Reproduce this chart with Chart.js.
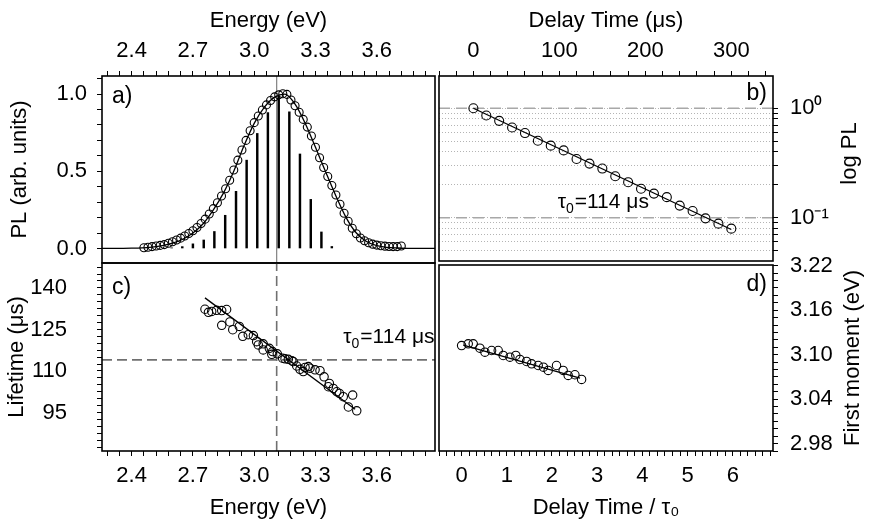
<!DOCTYPE html>
<html>
<head>
<meta charset="utf-8">
<script src="https://cdn.jsdelivr.net/npm/chart.js@4.4.0/dist/chart.umd.min.js"></script>
<style>
html, body { margin: 0; padding: 0; background: #fff; }
#wrap { position: relative; width: 871px; height: 524px; }
#wrap canvas { position: absolute; left: 0; top: 0; }
</style>
</head>
<body>
<div id="wrap">
  <canvas id="pa" width="871" height="524"></canvas>
  <canvas id="pb" width="871" height="524"></canvas>
  <canvas id="pc" width="871" height="524"></canvas>
  <canvas id="pd" width="871" height="524"></canvas>
</div>
<script>
// ---- panel a: PL spectrum (circles), fit, vibronic sticks ----
const plEnergy = [2.46, 2.48, 2.50, 2.52, 2.54, 2.56, 2.58, 2.60, 2.62, 2.64, 2.66, 2.68, 2.70, 2.72, 2.74, 2.76,
  2.78, 2.80, 2.82, 2.84, 2.86, 2.88, 2.90, 2.92, 2.94, 2.96, 2.98, 3.00, 3.02, 3.04, 3.06, 3.08,
  3.10, 3.12, 3.14, 3.16, 3.18, 3.20, 3.22, 3.24, 3.26, 3.28, 3.30, 3.32, 3.34, 3.36, 3.38, 3.40,
  3.42, 3.44, 3.46, 3.48, 3.50, 3.52, 3.54, 3.56, 3.58, 3.60, 3.62, 3.64, 3.66, 3.68, 3.70, 3.72];
const plValue = [0.005, 0.008, 0.012, 0.016, 0.020, 0.025, 0.034, 0.044, 0.055, 0.067, 0.081, 0.097, 0.115, 0.136, 0.162, 0.190,
  0.223, 0.258, 0.296, 0.340, 0.387, 0.442, 0.508, 0.572, 0.638, 0.700, 0.762, 0.815, 0.858, 0.897, 0.930, 0.958,
  0.982, 0.995, 1.002, 0.998, 0.962, 0.924, 0.882, 0.836, 0.786, 0.728, 0.656, 0.588, 0.524, 0.466, 0.408, 0.346,
  0.286, 0.228, 0.176, 0.131, 0.095, 0.068, 0.050, 0.037, 0.028, 0.022, 0.018, 0.015, 0.013, 0.012, 0.012, 0.016];
const plFitEnergy = [2.25, 2.40, 2.45, 2.50, 2.55, 2.60, 2.65, 2.70, 2.75, 2.80, 2.85, 2.90, 2.95, 3.00, 3.05,
  3.10, 3.15, 3.20, 3.25, 3.30, 3.35, 3.40, 3.45, 3.50, 3.55, 3.60, 3.65, 3.70, 3.75, 3.90];
const plFitValue = [0, 0.002, 0.004, 0.009, 0.018, 0.034, 0.060, 0.100, 0.160, 0.250, 0.360, 0.500, 0.665, 0.810, 0.915,
  0.980, 1.000, 0.935, 0.810, 0.655, 0.495, 0.340, 0.200, 0.100, 0.045, 0.018, 0.007, 0.003, 0.001, 0];
const stickEnergy = [2.596, 2.648, 2.700, 2.753, 2.805, 2.858, 2.911, 2.963, 3.015, 3.067, 3.120, 3.172, 3.224, 3.277, 3.329, 3.380];
const stickValue = [0.004, 0.012, 0.030, 0.055, 0.110, 0.215, 0.370, 0.572, 0.745, 0.880, 0.985, 0.885, 0.612, 0.318, 0.107, 0.013];
const peakEnergy = 3.11;

// ---- panel b: decay at the peak ----
const delayTime = [0, 15, 30, 45, 60, 75, 90, 105, 120, 135, 150, 165, 180, 195, 210, 225, 240, 255, 270, 285, 300];
const decayPL = [1.0, 0.858, 0.767, 0.667, 0.593, 0.505, 0.455, 0.412, 0.344, 0.312, 0.281, 0.239, 0.211, 0.184,
  0.166, 0.154, 0.129, 0.115, 0.0986, 0.0882, 0.0794];
const decayFitT = [0, 300];
const decayFitPL = [1.0, 0.078];
const tau0 = 114;

// ---- panel c: lifetime vs energy ----
const lifeEnergy = [2.759, 2.776, 2.792, 2.816, 2.841, 2.841, 2.865, 2.881, 2.895, 2.927, 2.944, 2.971, 2.996, 3.012, 3.020,
  3.044, 3.044, 3.074, 3.086, 3.090, 3.113, 3.139, 3.151, 3.167, 3.184, 3.191, 3.208, 3.224, 3.240, 3.249, 3.265,
  3.273, 3.298, 3.322, 3.342, 3.363, 3.368, 3.387, 3.404, 3.417, 3.436, 3.461, 3.482, 3.502];
const lifetime = [132.3, 131.2, 131.5, 131.9, 131.8, 126.5, 132.2, 127.7, 124.9, 126.1, 122.5, 123.1, 122.8, 120.6, 119.4,
  119.8, 117.6, 118.2, 116.0, 117.0, 116.2, 114.6, 114.4, 114.2, 113.7, 113.4, 111.8, 110.6, 109.8, 111.3, 111.6,
  111.0, 110.4, 110.1, 107.9, 104.3, 105.5, 103.7, 102.5, 101.9, 100.7, 97.0, 101.3, 95.6];
const lifeFitE = [2.759, 3.494];
const lifeFitL = [136.4, 96.2];

// ---- panel d: first moment vs reduced delay ----
const reducedTime = [0, 0.147, 0.257, 0.405, 0.516, 0.664, 0.810, 0.920, 1.069, 1.200, 1.290, 1.438, 1.549, 1.695,
  1.810, 1.916, 2.100, 2.247, 2.358, 2.507, 2.655];
const firstMoment = [3.1123, 3.1146, 3.1146, 3.1087, 3.1033, 3.1056, 3.1056, 3.0989, 3.0966, 3.0989, 3.0935, 3.0908,
  3.0877, 3.0854, 3.0831, 3.0787, 3.0854, 3.0787, 3.0720, 3.0729, 3.0666];
const momentFitT = [0.037, 2.62];
const momentFitM = [3.113, 3.0683];

// ---- tick labels ----
const energyMajor = [2.4, 2.7, 3.0, 3.3, 3.6];
const energyLabels = ['2.4', '2.7', '3.0', '3.3', '3.6'];
const plMajor = [0, 0.5, 1.0];
const plLabels = ['0.0', '0.5', '1.0'];
const delayMajor = [0, 100, 200, 300];
const delayLabels = ['0', '100', '200', '300'];
const logMajor = [0.1, 1];
const logLabels = ['10\u207B\u00B9', '10\u2070'];
const lifeMajor = [95, 110, 125, 140];
const lifeLabels = ['95', '110', '125', '140'];
const reducedMajor = [0, 1, 2, 3, 4, 5, 6];
const reducedLabels = ['0', '1', '2', '3', '4', '5', '6'];
const momentMajor = [2.98, 3.04, 3.10, 3.16, 3.22];
const momentLabels = ['2.98', '3.04', '3.10', '3.16', '3.22'];
const logMinor = [0.05, 0.06, 0.07, 0.08, 0.09, 0.1, 0.2, 0.3, 0.4, 0.5, 0.6, 0.7, 0.8, 0.9, 1];

const FONT = '"Liberation Sans", Arial, sans-serif';
const FS = 22;
Chart.defaults.font.family = FONT;
Chart.defaults.font.size = FS;
Chart.defaults.color = '#000';

const pts = (xs, ys) => xs.map((x, i) => ({ x: x, y: ys[i] }));
function steps(start, step, n) {
  const out = [];
  for (let k = 0; k < n; k++) out.push(Math.round((start + k * step) * 10000) / 10000);
  return out;
}

// one axis, ticks forced to a list, labels only on majors
function axis(c) {
  return {
    type: c.type || 'linear',
    position: c.position,
    min: c.min, max: c.max,
    offset: false,
    afterFit: s => { if (s.isHorizontal()) s.height = c.size; else s.width = c.size; },
    afterBuildTicks: s => { s.ticks = c.ticks.map(v => ({ value: v })); },
    ticks: {
      autoSkip: false, maxRotation: 0, padding: c.pad,
      callback: v => {
        const i = c.majors.findIndex(m => Math.abs(m - v) < 1e-6);
        return i >= 0 ? c.labels[i] : '';
      }
    },
    grid: Object.assign({ display: true, offset: false, drawOnChartArea: false, drawTicks: true,
      tickLength: 5, tickColor: '#000', tickWidth: 1 }, c.grid || {}),
    border: Object.assign({ display: false }, c.border || {}),
    title: c.title ? { display: true, text: c.title, font: { size: FS }, padding: c.titlePad } : { display: false }
  };
}

function drawTau(ctx, x, y) {
  ctx.textAlign = 'left';
  ctx.textBaseline = 'alphabetic';
  ctx.font = '21px ' + FONT;
  ctx.fillText('\u03C4', x, y);
  let w = ctx.measureText('\u03C4').width;
  ctx.font = '14px ' + FONT;
  ctx.fillText('0', x + w, y + 5);
  w += ctx.measureText('0').width + 1;
  ctx.font = '21px ' + FONT;
  ctx.fillText('=' + tau0 + ' \u03BCs', x + w, y);
}

// frame, panel letter, tau note, right side title
const decor = {
  id: 'decor',
  afterDraw(chart, args, o) {
    const { ctx, chartArea: ca, scales } = chart;
    ctx.save();
    ctx.strokeStyle = '#000';
    ctx.lineWidth = 1.6;
    ctx.strokeRect(ca.left, ca.top, ca.right - ca.left, ca.bottom - ca.top);
    ctx.fillStyle = '#000';
    ctx.font = '23px ' + FONT;
    ctx.textBaseline = 'middle';
    ctx.textAlign = o.tagAlign;
    ctx.fillText(o.tag, o.tagAlign === 'left' ? ca.left + o.tagDx : ca.right + o.tagDx, ca.top + o.tagDy);
    if (o.note) {
      drawTau(ctx, scales.x.getPixelForValue(o.note.x), scales.y.getPixelForValue(o.note.y));
    }
    if (o.side) {
      ctx.translate(o.sideX, (ca.top + ca.bottom) / 2 + o.sideDy);
      ctx.rotate(-Math.PI / 2);
      ctx.textAlign = 'center';
      ctx.textBaseline = 'middle';
      ctx.font = FS + 'px ' + FONT;
      ctx.fillText(o.side, 0, 0);
    }
    ctx.restore();
  }
};

function baseOptions(padding, scales, deco) {
  return {
    responsive: false, animation: false, devicePixelRatio: 1, events: [],
    layout: { padding: padding },
    plugins: { legend: { display: false }, tooltip: { enabled: false }, decor: deco },
    scales: scales
  };
}

const circle = (data, r) => ({
  type: 'scatter', data: data, pointRadius: r, pointBorderWidth: 1.1,
  borderColor: '#000', backgroundColor: 'rgba(0,0,0,0)', pointBackgroundColor: 'rgba(0,0,0,0)', order: 1
});
const line = (data, color, width, dash, order) => ({
  type: 'line', data: data, borderColor: color, borderWidth: width, borderDash: dash || [],
  pointRadius: 0, fill: false, tension: 0, order: order
});

// ranges
const eMin = 2.255, eMax = 3.885;
const plMin = -0.094, plMax = 1.117;
const tMin = -40, tMax = 348.5;
const logMin = 0.0402, logMax = 1.97;
const lMin = 81.1, lMax = 149;
const rMin = -0.5, rMax = 6.89;
const mMin = 2.97, mMax = 3.221;

// ---- a ----
new Chart(document.getElementById('pa'), {
  type: 'scatter',
  data: { datasets: [
    circle(pts(plEnergy, plValue), 4),
    Object.assign(line(pts(plFitEnergy, plFitValue), '#000', 1.3, null, 2), { cubicInterpolationMode: 'monotone' }),
    { type: 'bar', data: pts(stickEnergy, stickValue), backgroundColor: '#000', barThickness: 1.8, order: 3 },
    line(pts([peakEnergy, peakEnergy], [plMin, plMax]), '#808080', 1.2, null, 4)
  ] },
  options: baseOptions({ left: 0, top: 0, right: 436, bottom: 261 }, {
    x: axis({ position: 'top', min: eMin, max: eMax, size: 76, ticks: steps(2.28, 0.06, 27),
      majors: energyMajor, labels: energyLabels, pad: 7, title: 'Energy (eV)', titlePad: { top: 8, bottom: 0 } }),
    y: axis({ position: 'left', min: plMin, max: plMax, size: 102, ticks: steps(0, 0.1, 12),
      majors: plMajor, labels: plLabels, pad: 10, title: 'PL (arb. units)', titlePad: { top: 7, bottom: 0 } })
  }, { tag: 'a)', tagAlign: 'left', tagDx: 10, tagDy: 21 }),
  plugins: [decor]
});

// ---- b ----
new Chart(document.getElementById('pb'), {
  type: 'scatter',
  data: { datasets: [
    circle(pts(delayTime, decayPL), 4.5),
    line(pts(decayFitT, decayFitPL), '#000', 1.3, null, 2),
    line(pts([tMin, tMax], [1, 1]), '#a8a8a8', 1.6, [11, 6], 3),
    line(pts([tMin, tMax], [0.1, 0.1]), '#a8a8a8', 1.6, [11, 6], 3)
  ] },
  options: baseOptions({ left: 439, top: 0, right: 0, bottom: 263 }, {
    x: axis({ position: 'top', min: tMin, max: tMax, size: 76, ticks: steps(-40, 20, 20),
      majors: delayMajor, labels: delayLabels, pad: 7, title: 'Delay Time (\u03BCs)', titlePad: { top: 8, bottom: 0 } }),
    y: axis({ type: 'logarithmic', position: 'right', min: logMin, max: logMax, size: 98, ticks: logMinor,
      majors: logMajor, labels: logLabels, pad: 12,
      grid: { drawOnChartArea: true, color: '#b4b4b4', lineWidth: 1 }, border: { display: false, dash: [1, 2] } })
  }, { tag: 'b)', tagAlign: 'right', tagDx: -6, tagDy: 18, note: { x: 98, y: 0.122 },
       side: 'log PL', sideX: 850, sideDy: -15 }),
  plugins: [decor]
});

// ---- c ----
new Chart(document.getElementById('pc'), {
  type: 'scatter',
  data: { datasets: [
    circle(pts(lifeEnergy, lifetime), 4.2),
    line(pts(lifeFitE, lifeFitL), '#000', 1.3, null, 2),
    line(pts([peakEnergy, peakEnergy], [lMin, lMax]), '#707070', 1.6, [10, 5], 3),
    line(pts([eMin, eMax], [tau0, tau0]), '#707070', 1.6, [10, 5], 3)
  ] },
  options: baseOptions({ left: 0, top: 263, right: 436, bottom: 0 }, {
    x: axis({ position: 'bottom', min: eMin, max: eMax, size: 73, ticks: steps(2.28, 0.06, 27),
      majors: energyMajor, labels: energyLabels, pad: 7, title: 'Energy (eV)', titlePad: { top: 0, bottom: 3 } }),
    y: axis({ position: 'left', min: lMin, max: lMax, size: 102, ticks: steps(82.5, 2.5, 27),
      majors: lifeMajor, labels: lifeLabels, pad: 30, title: 'Lifetime (\u03BCs)', titlePad: { top: 4, bottom: 0 } })
  }, { tag: 'c)', tagAlign: 'left', tagDx: 10, tagDy: 25, note: { x: 3.436, y: 120.2 } }),
  plugins: [decor]
});

// ---- d ----
new Chart(document.getElementById('pd'), {
  type: 'scatter',
  data: { datasets: [
    circle(pts(reducedTime, firstMoment), 4.2),
    line(pts(momentFitT, momentFitM), '#000', 1.3, null, 2)
  ] },
  options: baseOptions({ left: 439, top: 265, right: 0, bottom: 0 }, {
    x: axis({ position: 'bottom', min: rMin, max: rMax, size: 73, ticks: steps(-0.5, 1 / 6, 45),
      majors: reducedMajor, labels: reducedLabels, pad: 7, title: 'Delay Time / \u03C4\u2080', titlePad: { top: 0, bottom: 3 } }),
    y: axis({ position: 'right', min: mMin, max: mMax, size: 98, ticks: steps(2.97, 0.01, 26),
      majors: momentMajor, labels: momentLabels, pad: 12 })
  }, { tag: 'd)', tagAlign: 'right', tagDx: -6, tagDy: 20, side: 'First moment (eV)', sideX: 853, sideDy: 0 }),
  plugins: [decor]
});
</script>
</body>
</html>
